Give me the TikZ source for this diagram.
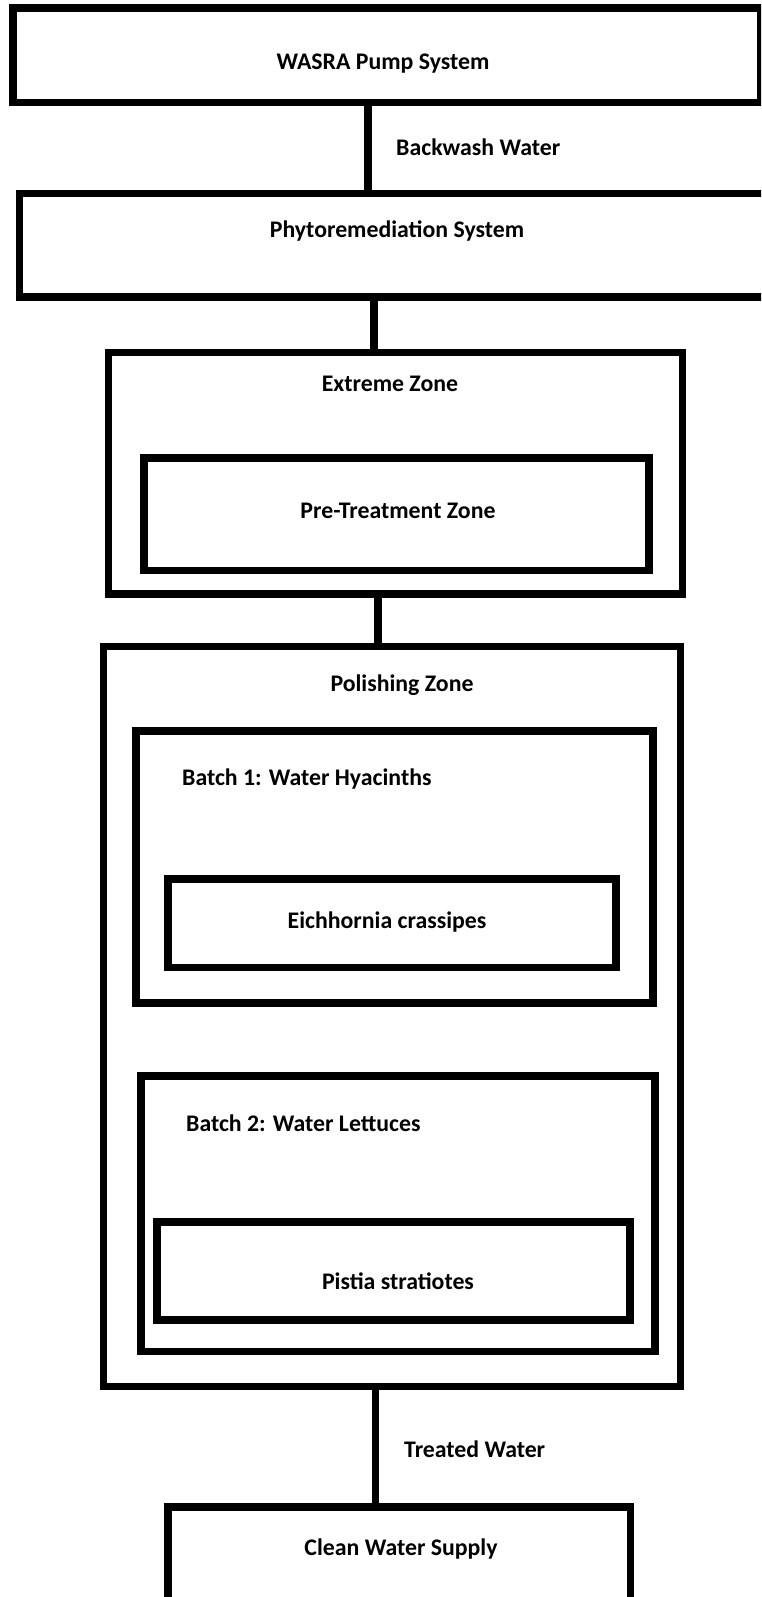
\documentclass[tikz,border=0pt]{standalone}
\usepackage{fontspec}
\setmainfont{Carlito}
\begin{document}
\begin{tikzpicture}[x=1pt,y=-1pt,
  box/.style={draw=black,line width=7.5pt,rectangle,inner sep=0pt,fill=none},
  lbl/.style={inner sep=0pt,font=\fontsize{23.8}{28}\selectfont\bfseries},
  conn/.style={draw=black,line width=7.5pt,line cap=round}]
\useasboundingbox (0,0) rectangle (761,1597);
\clip (0,0) rectangle (761,1597);
\fill[white] (0,0) rectangle (761,1597);
% boxes
\node[box,minimum width=748pt,minimum height=94.5pt] (wasra) at (387,55.25) {};
\node[box,minimum width=755.5pt,minimum height=103.5pt] (phyto) at (397.25,245.25) {};
\node[box,minimum width=574pt,minimum height=241.5pt] (extreme) at (395.5,473.25) {};
\node[box,minimum width=505pt,minimum height=112.5pt] (pre) at (396.5,514.25) {};
\node[box,minimum width=577pt,minimum height=740pt] (polish) at (392,1016.5) {};
\node[box,minimum width=517pt,minimum height=272pt] (batch1) at (394.5,867) {};
\node[box,minimum width=448pt,minimum height=88.5pt] (eich) at (392,923.25) {};
\node[box,minimum width=514pt,minimum height=275.5pt] (batch2) at (398,1213.75) {};
\node[box,minimum width=473pt,minimum height=98pt] (pistia) at (393.5,1271) {};
\node[box,minimum width=462.5pt,minimum height=103pt] (clean) at (399.25,1558.5) {};
% labels
\node[lbl] (twasra) at (383,64) {WASRA Pump System};
\node[lbl,anchor=west] (tback) at (396,147) {Backwash Water};
\node[lbl] (tphyto) at (397,231) {Phytoremediation System};
\node[lbl] (textreme) at (390,384) {Extreme Zone};
\node[lbl] (tpre) at (398,511) {Pre-Treatment Zone};
\node[lbl] (tpolish) at (402,685) {Polishing Zone};
\node[lbl,anchor=west] (tbatch1) at (182,779) {Batch 1: Water Hyacinths};
\node[lbl] (teich) at (387,922) {Eichhornia crassipes};
\node[lbl,anchor=west] (tbatch2) at (186,1123) {Batch 2: Water Lettuces};
\node[lbl] (tpistia) at (398,1281) {Pistia stratiotes};
\node[lbl,anchor=west] (ttreated) at (404,1449) {Treated Water};
\node[lbl] (tclean) at (401,1549) {Clean Water Supply};
% connectors
\coordinate (c1) at (368,0);
\coordinate (c2) at (374,0);
\coordinate (c3) at (378,0);
\coordinate (c4) at (375.5,0);
\draw[conn] (wasra.south -| c1) -- (phyto.north -| c1);
\draw[conn] (phyto.south -| c2) -- (extreme.north -| c2);
\draw[conn] (extreme.south -| c3) -- (polish.north -| c3);
\draw[conn] (polish.south -| c4) -- (clean.north -| c4);
\end{tikzpicture}
\end{document}
